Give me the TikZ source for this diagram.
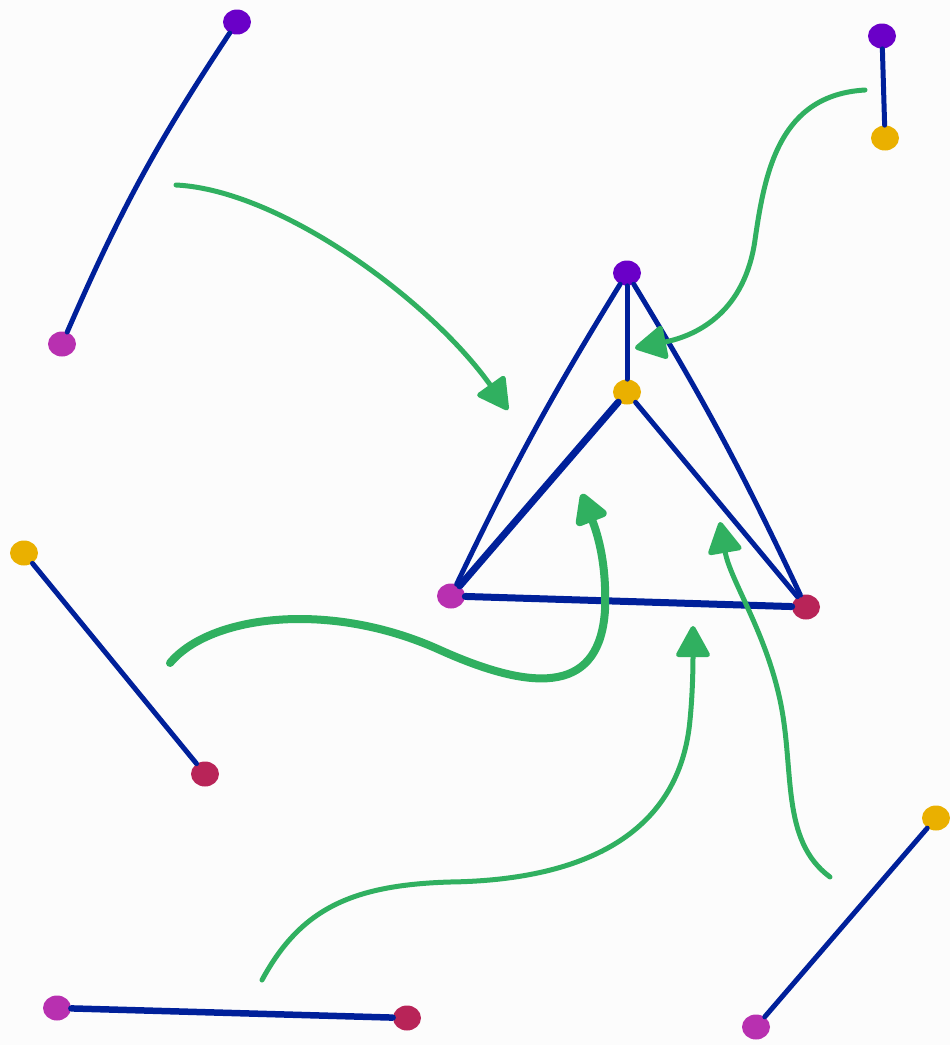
\documentclass[tikz,border=0pt]{standalone}
\usepackage{xcolor}
\definecolor{bgpaper}{HTML}{FCFCFC}
\definecolor{edgeblue}{HTML}{00209A}
\definecolor{arrowgreen}{HTML}{30B060}
\definecolor{vpurple}{HTML}{6A00C8}
\definecolor{vmagenta}{HTML}{B830B0}
\definecolor{vyellow}{HTML}{EAB000}
\definecolor{vred}{HTML}{B82458}
\usetikzlibrary{arrows.meta, positioning, shapes.geometric}

\begin{document}
\begin{tikzpicture}[
  x=0.02cm, y=-0.02cm,
  vtx/.style={ellipse, inner sep=0pt, minimum width=0.56cm, minimum height=0.5cm},
  edge/.style={draw=edgeblue, line width=0.1cm, line cap=round},
  move/.style={draw=arrowgreen, line width=0.1cm, line cap=round,
               -{Triangle[round, length=0.68cm, width=0.72cm]}}
]

% paper
\fill[bgpaper] (0,0) rectangle (950,1045);

% loose edges
\node[vtx, fill=vpurple]  (a1) at (237,22)   {};
\node[vtx, fill=vmagenta] (a2) at (62,344)   {};
\node[vtx, fill=vpurple]  (b1) at (882,36)   {};
\node[vtx, fill=vyellow]  (b2) at (885,138)  {};
\node[vtx, fill=vyellow]  (c1) at (24,553)   {};
\node[vtx, fill=vred]     (c2) at (205,774)  {};
\node[vtx, fill=vmagenta] (d1) at (57,1008)  {};
\node[vtx, fill=vred]     (d2) at (407,1018) {};
\node[vtx, fill=vyellow]  (e1) at (936,818)  {};
\node[vtx, fill=vmagenta] (e2) at (756,1027) {};

% glued triangle
\node[vtx, fill=vpurple]  (top)   at (627,273) {};
\node[vtx, fill=vyellow]  (mid)   at (627,392) {};
\node[vtx, fill=vmagenta] (left)  at (451,596) {};
\node[vtx, fill=vred]     (right) at (806,607) {};

\begin{scope}[on background layer/.try]
\draw[edge] (a1) to[bend right=5] (a2);
\draw[edge] (b1) -- (b2);
\draw[edge] (c1) -- (c2);
\draw[edge, line width=0.13cm] (d1) -- (d2);
\draw[edge] (e1) -- (e2);

\draw[edge] (top) -- (mid);
\draw[edge] (top) to[bend right=3] (left);
\draw[edge] (top) to[bend left=3] (right);
\draw[edge, line width=0.14cm] (mid) -- (left);
\draw[edge] (mid) -- (right);
\draw[edge, line width=0.14cm] (left) -- (right);
\end{scope}

% green moves
\coordinate (g1s) at (176,185);  \coordinate (g1e) at (508,410);
\coordinate (g2s) at (865,90);   \coordinate (g2e) at (635,348);
\coordinate (g3s) at (170,663);  \coordinate (g3e) at (582,494);
\coordinate (g4s) at (262,980);  \coordinate (g4e) at (693,626);
\coordinate (g5s) at (830,877);  \coordinate (g5e) at (720,522);

\draw[move] (g1s) .. controls (280,190) and (430,300) .. (g1e);
\draw[move] (g2s) .. controls (780,95) and (765,170) .. (755,240)
  .. controls (745,310) and (700,335) .. (g2e);
\draw[move, line width=0.16cm] (g3s) .. controls (210,615) and (330,600) .. (440,650)
  .. controls (540,695) and (600,690) .. (605,610)
  .. controls (607,560) and (596,530) .. (g3e);
\draw[move] (g4s) .. controls (300,910) and (350,885) .. (450,882)
  .. controls (590,880) and (680,830) .. (690,720)
  .. controls (693,690) and (693,660) .. (g4e);
\draw[move] (g5s) .. controls (780,840) and (795,770) .. (780,700)
  .. controls (765,630) and (730,580) .. (g5e);

\end{tikzpicture}
\end{document}
